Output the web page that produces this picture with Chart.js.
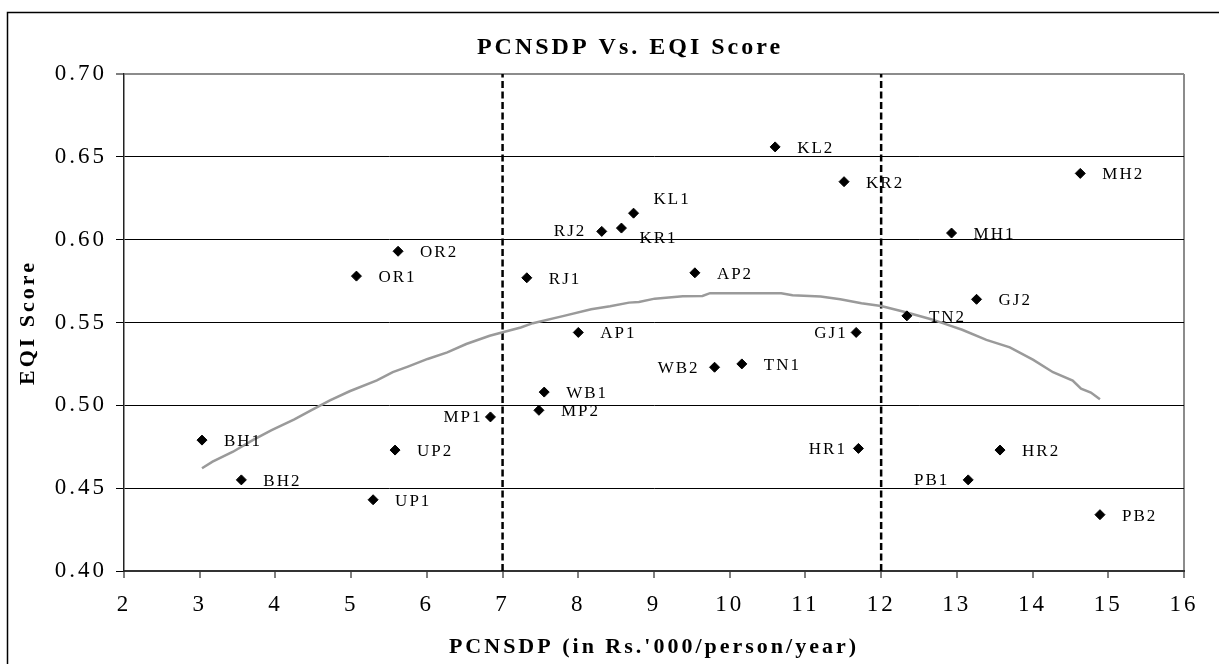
<!DOCTYPE html>
<html>
<head>
<meta charset="utf-8">
<title>PCNSDP Vs. EQI Score</title>
<script src="https://cdn.jsdelivr.net/npm/chart.js@4.4.0/dist/chart.umd.min.js"></script>
<style>
  html, body { margin: 0; padding: 0; background: #fff; overflow: hidden; }
  #chart-box { width: 1260px; height: 664px; }
</style>
</head>
<body>
<div id="chart-box"><canvas id="eqiChart" width="1260" height="664"></canvas></div>
<script>
// State-period codes and their values
const states = ["BH1", "BH2", "UP1", "UP2", "OR1", "OR2", "MP1", "MP2", "WB1", "RJ1",
  "AP1", "RJ2", "KR1", "KL1", "AP2", "WB2", "TN1", "KL2", "KR2", "GJ1",
  "HR1", "TN2", "MH1", "PB1", "GJ2", "HR2", "MH2", "PB2"];
const pcnsdp = [3.03, 3.55, 5.29, 5.58, 5.07, 5.62, 6.84, 7.48, 7.55, 7.32,
  8.00, 8.31, 8.57, 8.73, 9.54, 9.80, 10.16, 10.60, 11.51, 11.67,
  11.70, 12.34, 12.93, 13.15, 13.26, 13.57, 14.63, 14.89];
const eqiScore = [0.479, 0.455, 0.443, 0.473, 0.578, 0.593, 0.493, 0.497, 0.508, 0.577,
  0.544, 0.605, 0.607, 0.616, 0.580, 0.523, 0.525, 0.656, 0.635, 0.544,
  0.474, 0.554, 0.604, 0.455, 0.564, 0.473, 0.640, 0.434];

// Grey trend curve (traced points)
const trendX = [3.03, 3.17, 3.44, 3.70, 3.95, 4.25, 4.47, 4.72, 4.98, 5.34, 5.55, 5.75,
  6.01, 6.27, 6.52, 6.83, 7.04, 7.24, 7.40, 7.81, 8.17, 8.42, 8.67, 8.80, 9.01, 9.38,
  9.64, 9.74, 10.68, 10.83, 11.20, 11.46, 11.74, 12.00, 12.34, 12.66, 12.92, 13.07,
  13.39, 13.70, 14.01, 14.27, 14.53, 14.64, 14.77, 14.89];
const trendY = [0.462, 0.466, 0.472, 0.479, 0.485, 0.4915, 0.497, 0.503, 0.5085, 0.515, 0.520, 0.5234,
  0.528, 0.532, 0.537, 0.542, 0.5446, 0.547, 0.5496, 0.554, 0.558, 0.5598, 0.562, 0.5624, 0.5644, 0.5659,
  0.566, 0.5677, 0.5677, 0.5665, 0.5657, 0.564, 0.5616, 0.560, 0.556, 0.552, 0.548, 0.5456,
  0.5395, 0.535, 0.5274, 0.520, 0.5149, 0.510, 0.5077, 0.5036];

// Dashed vertical cut-offs
const cutoffs = [7, 12];

// Axis ranges / ticks
const xTicks = { min: 2, max: 16, step: 1 };
const yTicks = { min: 0.40, max: 0.70, step: 0.05 };

const serif = "Liberation Serif";

// Where labels sit relative to the marker (default: to the right)
const labelPlace = {
  RJ2: { dx: -15.5, dy: 0, align: "right" },
  MP1: { dx: -8, dy: 1, align: "right" },
  GJ1: { dx: -8.5, dy: 1, align: "right" },
  HR1: { dx: -11.5, dy: 1, align: "right" },
  WB2: { dx: -15, dy: 1, align: "right" },
  PB1: { dx: -19, dy: 1, align: "right" },
  KL1: { dx: 20, dy: -14, align: "left" },
  KR1: { dx: 18, dy: 10, align: "left" },
};

// wide character spacing like the original
const spacingPlugin = {
  id: "spacing",
  beforeUpdate(chart) { chart.ctx.letterSpacing = "3px"; },
  beforeDraw(chart) { chart.ctx.letterSpacing = "3px"; },
};

// outer frame of the figure
const framePlugin = {
  id: "frame",
  beforeDraw(chart) {
    const ctx = chart.ctx;
    ctx.save();
    ctx.strokeStyle = "#000";
    ctx.lineWidth = 1.5;
    ctx.beginPath();
    ctx.moveTo(7.5, chart.height);
    ctx.lineTo(7.5, 12.5);
    ctx.lineTo(chart.width, 12.5);
    ctx.stroke();
    ctx.restore();
  },
};

const labelPlugin = {
  id: "stateLabels",
  afterDatasetsDraw(chart) {
    const ctx = chart.ctx;
    const meta = chart.getDatasetMeta(0);
    ctx.save();
    ctx.font = '17px "' + serif + '"';
    ctx.letterSpacing = "2px";
    ctx.fillStyle = "#000";
    ctx.textBaseline = "middle";
    meta.data.forEach((pt, i) => {
      const name = states[i];
      const place = labelPlace[name] || { dx: 22, dy: 1.5, align: "left" };
      ctx.textAlign = place.align;
      ctx.fillText(name, pt.x + place.dx, pt.y + place.dy);
    });
    ctx.restore();
  },
};

const isTop = (v) => Math.abs(v - yTicks.max) < 1e-9;

new Chart(document.getElementById("eqiChart"), {
  type: "scatter",
  data: {
    datasets: [
      {
        label: "States",
        data: pcnsdp.map((x, i) => ({ x: x, y: eqiScore[i] })),
        pointStyle: "rectRot",
        pointRadius: 5,
        backgroundColor: "#000",
        borderColor: "#000",
        borderWidth: 1,
        showLine: false,
      },
      {
        label: "Trend",
        data: trendX.map((x, i) => ({ x: x, y: trendY[i] })),
        showLine: true,
        borderColor: "#9a9a9a",
        borderWidth: 2.5,
        pointRadius: 0,
        tension: 0,
      },
    ].concat(
      cutoffs.map((c) => ({
        label: "Cut-off " + c,
        data: [{ x: c, y: yTicks.min }, { x: c, y: yTicks.max }],
        showLine: true,
        borderColor: "#000",
        borderWidth: 2.5,
        borderDash: [7, 3.5],
        pointRadius: 0,
      }))
    ),
  },
  options: {
    responsive: false,
    animation: false,
    layout: { padding: 0 },
    plugins: {
      legend: { display: false },
      tooltip: { enabled: false },
      title: {
        display: true,
        text: "PCNSDP Vs. EQI Score",
        color: "#000",
        font: { family: serif, size: 24, weight: "bold" },
        padding: { top: 33, bottom: 12.2 },
      },
    },
    scales: {
      x: {
        type: "linear",
        min: xTicks.min,
        max: xTicks.max,
        ticks: {
          stepSize: xTicks.step,
          color: "#000",
          font: { family: serif, size: 23 },
          padding: 13.5,
          maxRotation: 0,
          autoSkip: false,
        },
        grid: {
          color: (c) => (c.tick && c.tick.value === xTicks.max ? "#8c8c8c" : "rgba(0,0,0,0)"),
          lineWidth: 2,
          tickColor: "#000",
          tickWidth: 1,
          tickLength: 7,
        },
        border: { color: "#333", width: 2 },
        title: {
          display: true,
          text: "PCNSDP (in Rs.'000/person/year)",
          color: "#000",
          font: { family: serif, size: 22, weight: "bold" },
          padding: { top: 0, bottom: 3.5 },
        },
        afterFit: (scale) => { scale.height = 93; },
      },
      y: {
        min: yTicks.min,
        max: yTicks.max,
        ticks: {
          stepSize: yTicks.step,
          color: "#000",
          font: { family: serif, size: 23 },
          padding: 9,
          callback: (v) => v.toFixed(2),
        },
        grid: {
          color: (c) => (c.tick && isTop(c.tick.value) ? "#8c8c8c" : "#000"),
          lineWidth: (c) => (c.tick && isTop(c.tick.value) ? 2 : 1),
          tickColor: "#000",
          tickWidth: 1,
          tickLength: 8,
        },
        border: { color: "#222", width: 1.5 },
        title: {
          display: true,
          text: "EQI Score",
          color: "#000",
          font: { family: serif, size: 22, weight: "bold" },
          padding: { top: 14.8, bottom: 0 },
        },
        afterFit: (scale) => { scale.width = 124; },
      },
      // empty right-hand spacer so the title centres on the whole frame
      spacer: {
        type: "linear",
        position: "right",
        display: true,
        ticks: { display: false },
        grid: { display: false, drawTicks: false },
        border: { display: false },
        afterFit: (scale) => { scale.width = 76; },
      },
    },
  },
  plugins: [spacingPlugin, framePlugin, labelPlugin],
});
</script>
</body>
</html>
